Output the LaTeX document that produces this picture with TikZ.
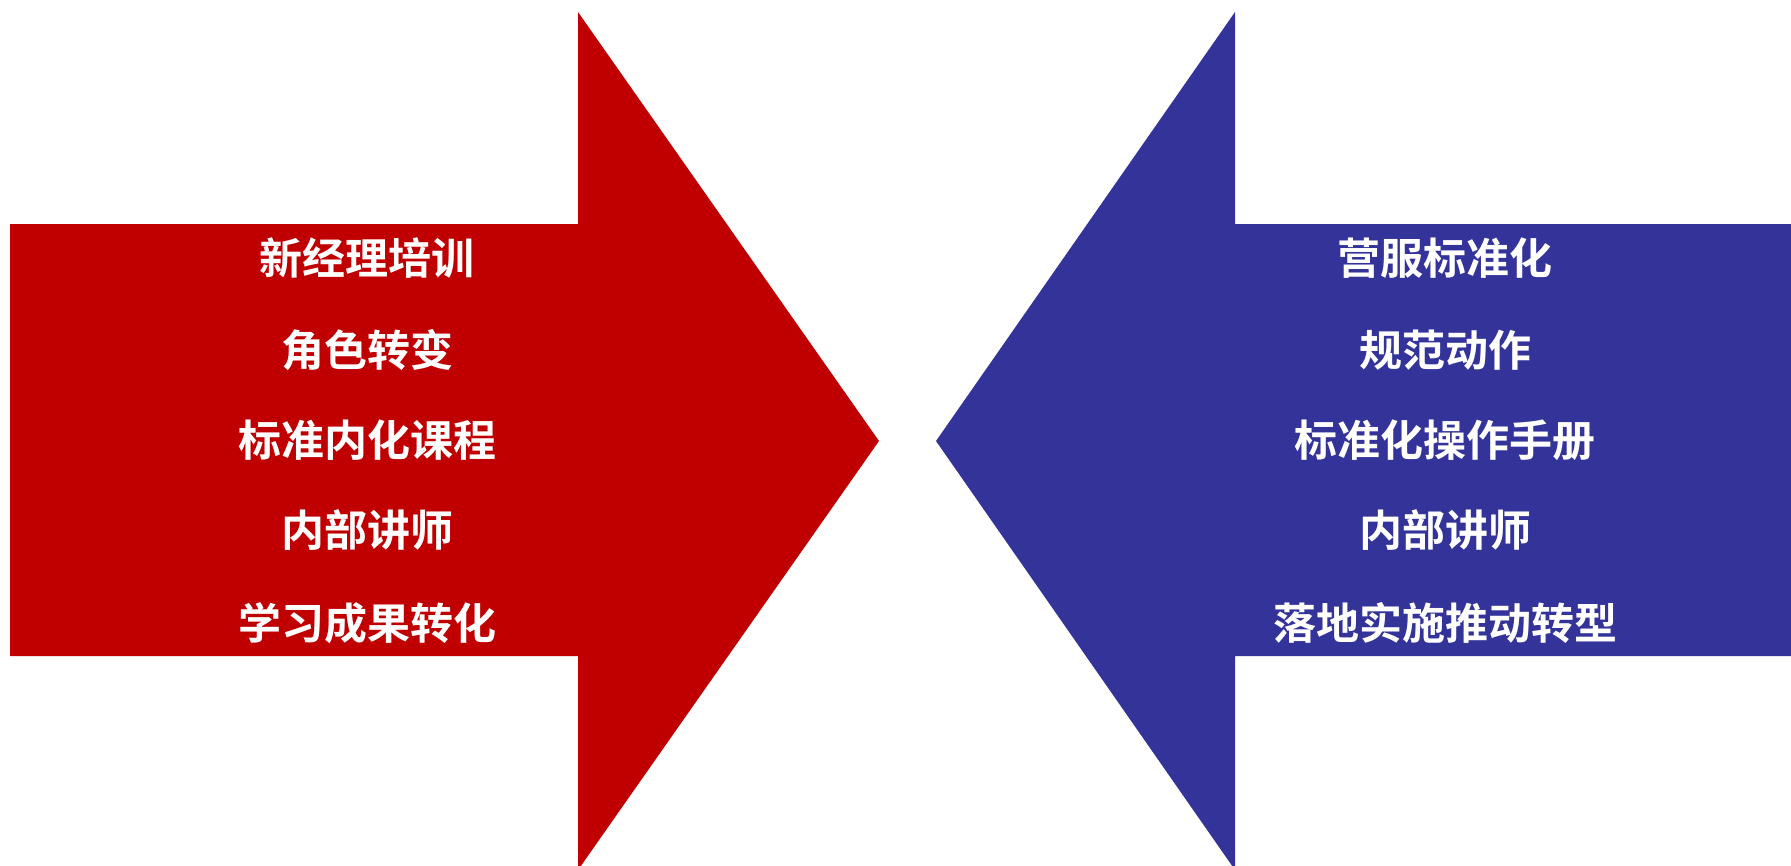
\documentclass[tikz,border=0pt]{standalone}
\usepackage{fontspec}
\newfontfamily\cjk{Noto Sans CJK SC Bold}
\definecolor{arrred}{HTML}{C00000}
\definecolor{arrblue}{HTML}{333399}
\begin{document}
\begin{tikzpicture}[x=1pt,y=-1pt,
  lbl/.style={text=white,font=\cjk\fontsize{43}{43}\selectfont,inner sep=0pt,anchor=center}]
\useasboundingbox (0,0) rectangle (1791,865);
\fill[arrred] (10,224) -- (578,224) -- (578,12) -- (879,441) -- (578,870) -- (578,656) -- (10,656) -- cycle;
\fill[arrblue] (1791,224) -- (1235,224) -- (1235,12) -- (936,441) -- (1235,870) -- (1235,656) -- (1791,656) -- cycle;
\node[lbl] (l1) at (367,258) {新经理培训};
\node[lbl] (l2) at (367,350) {角色转变};
\node[lbl] (l3) at (367,440) {标准内化课程};
\node[lbl] (l4) at (367,530) {内部讲师};
\node[lbl] (l5) at (367,623) {学习成果转化};
\node[lbl] (r1) at (1445,258) {营服标准化};
\node[lbl] (r2) at (1445,350) {规范动作};
\node[lbl] (r3) at (1445,440) {标准化操作手册};
\node[lbl] (r4) at (1445,530) {内部讲师};
\node[lbl] (r5) at (1445,623) {落地实施推动转型};
\end{tikzpicture}
\end{document}
